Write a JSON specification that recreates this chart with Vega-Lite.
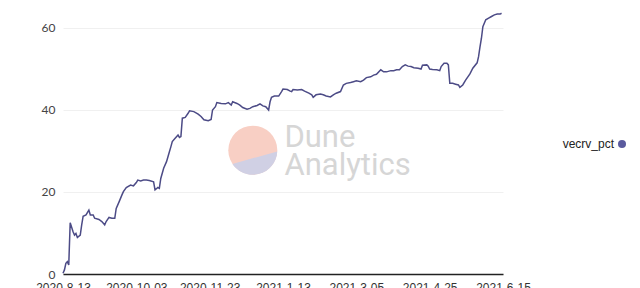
{
  "$schema": "https://vega.github.io/schema/vega-lite/v6.json",
  "width": 440,
  "height": 262,
  "autosize": "none",
  "padding": {"left": 63, "top": 12, "right": 137, "bottom": 14},
  "background": "#ffffff",
  "config": {
    "view": {"stroke": null},
    "font": "Liberation Sans"
  },
  "datasets": {
    "series": [
      {"date": "2020-08-13", "vecrv_pct": 0.2},
      {"date": "2020-08-14", "vecrv_pct": 1.0},
      {"date": "2020-08-15", "vecrv_pct": 2.6},
      {"date": "2020-08-16", "vecrv_pct": 3.0},
      {"date": "2020-08-17", "vecrv_pct": 2.2},
      {"date": "2020-08-18", "vecrv_pct": 12.5},
      {"date": "2020-08-20", "vecrv_pct": 10.3},
      {"date": "2020-08-21", "vecrv_pct": 9.5},
      {"date": "2020-08-22", "vecrv_pct": 9.9},
      {"date": "2020-08-23", "vecrv_pct": 8.9},
      {"date": "2020-08-25", "vecrv_pct": 9.5},
      {"date": "2020-08-26", "vecrv_pct": 12.0},
      {"date": "2020-08-27", "vecrv_pct": 14.1},
      {"date": "2020-08-29", "vecrv_pct": 14.4},
      {"date": "2020-08-31", "vecrv_pct": 15.6},
      {"date": "2020-09-01", "vecrv_pct": 14.4},
      {"date": "2020-09-03", "vecrv_pct": 14.4},
      {"date": "2020-09-04", "vecrv_pct": 13.6},
      {"date": "2020-09-07", "vecrv_pct": 13.3},
      {"date": "2020-09-09", "vecrv_pct": 12.8},
      {"date": "2020-09-11", "vecrv_pct": 12.0},
      {"date": "2020-09-12", "vecrv_pct": 12.8},
      {"date": "2020-09-14", "vecrv_pct": 13.8},
      {"date": "2020-09-16", "vecrv_pct": 13.6},
      {"date": "2020-09-18", "vecrv_pct": 13.6},
      {"date": "2020-09-19", "vecrv_pct": 16.0},
      {"date": "2020-09-21", "vecrv_pct": 17.6},
      {"date": "2020-09-23", "vecrv_pct": 19.3},
      {"date": "2020-09-24", "vecrv_pct": 20.1},
      {"date": "2020-09-26", "vecrv_pct": 21.1},
      {"date": "2020-09-29", "vecrv_pct": 21.7},
      {"date": "2020-10-01", "vecrv_pct": 21.5},
      {"date": "2020-10-03", "vecrv_pct": 22.3},
      {"date": "2020-10-04", "vecrv_pct": 22.9},
      {"date": "2020-10-06", "vecrv_pct": 22.7},
      {"date": "2020-10-08", "vecrv_pct": 22.9},
      {"date": "2020-10-10", "vecrv_pct": 22.9},
      {"date": "2020-10-12", "vecrv_pct": 22.8},
      {"date": "2020-10-15", "vecrv_pct": 22.5},
      {"date": "2020-10-16", "vecrv_pct": 20.5},
      {"date": "2020-10-18", "vecrv_pct": 21.1},
      {"date": "2020-10-19", "vecrv_pct": 20.9},
      {"date": "2020-10-20", "vecrv_pct": 23.3},
      {"date": "2020-10-22", "vecrv_pct": 25.8},
      {"date": "2020-10-24", "vecrv_pct": 27.4},
      {"date": "2020-10-26", "vecrv_pct": 29.8},
      {"date": "2020-10-27", "vecrv_pct": 31.0},
      {"date": "2020-10-28", "vecrv_pct": 32.3},
      {"date": "2020-10-30", "vecrv_pct": 33.1},
      {"date": "2020-11-01", "vecrv_pct": 33.9},
      {"date": "2020-11-02", "vecrv_pct": 33.3},
      {"date": "2020-11-03", "vecrv_pct": 33.5},
      {"date": "2020-11-04", "vecrv_pct": 38.0},
      {"date": "2020-11-06", "vecrv_pct": 38.2},
      {"date": "2020-11-08", "vecrv_pct": 39.2},
      {"date": "2020-11-09", "vecrv_pct": 39.8},
      {"date": "2020-11-12", "vecrv_pct": 39.6},
      {"date": "2020-11-15", "vecrv_pct": 39.0},
      {"date": "2020-11-17", "vecrv_pct": 38.4},
      {"date": "2020-11-19", "vecrv_pct": 37.6},
      {"date": "2020-11-22", "vecrv_pct": 37.4},
      {"date": "2020-11-24", "vecrv_pct": 37.7},
      {"date": "2020-11-25", "vecrv_pct": 40.0},
      {"date": "2020-11-27", "vecrv_pct": 40.8},
      {"date": "2020-11-28", "vecrv_pct": 41.8},
      {"date": "2020-12-01", "vecrv_pct": 41.6},
      {"date": "2020-12-04", "vecrv_pct": 41.5},
      {"date": "2020-12-06", "vecrv_pct": 41.8},
      {"date": "2020-12-08", "vecrv_pct": 41.2},
      {"date": "2020-12-09", "vecrv_pct": 42.0},
      {"date": "2020-12-12", "vecrv_pct": 41.6},
      {"date": "2020-12-14", "vecrv_pct": 41.2},
      {"date": "2020-12-16", "vecrv_pct": 40.6},
      {"date": "2020-12-19", "vecrv_pct": 40.2},
      {"date": "2020-12-21", "vecrv_pct": 40.4},
      {"date": "2020-12-23", "vecrv_pct": 40.8},
      {"date": "2020-12-26", "vecrv_pct": 41.1},
      {"date": "2020-12-28", "vecrv_pct": 41.5},
      {"date": "2020-12-30", "vecrv_pct": 41.0},
      {"date": "2021-01-01", "vecrv_pct": 40.8},
      {"date": "2021-01-03", "vecrv_pct": 40.0},
      {"date": "2021-01-04", "vecrv_pct": 42.0},
      {"date": "2021-01-05", "vecrv_pct": 43.1},
      {"date": "2021-01-07", "vecrv_pct": 43.4},
      {"date": "2021-01-10", "vecrv_pct": 43.4},
      {"date": "2021-01-12", "vecrv_pct": 44.5},
      {"date": "2021-01-13", "vecrv_pct": 45.1},
      {"date": "2021-01-16", "vecrv_pct": 45.0},
      {"date": "2021-01-18", "vecrv_pct": 44.6},
      {"date": "2021-01-19", "vecrv_pct": 44.5},
      {"date": "2021-01-20", "vecrv_pct": 45.0},
      {"date": "2021-01-23", "vecrv_pct": 44.9},
      {"date": "2021-01-26", "vecrv_pct": 45.0},
      {"date": "2021-01-28", "vecrv_pct": 44.6},
      {"date": "2021-01-31", "vecrv_pct": 44.1},
      {"date": "2021-02-02", "vecrv_pct": 43.7},
      {"date": "2021-02-03", "vecrv_pct": 43.1},
      {"date": "2021-02-05", "vecrv_pct": 43.7},
      {"date": "2021-02-08", "vecrv_pct": 43.9},
      {"date": "2021-02-10", "vecrv_pct": 43.7},
      {"date": "2021-02-12", "vecrv_pct": 43.4},
      {"date": "2021-02-15", "vecrv_pct": 43.2},
      {"date": "2021-02-17", "vecrv_pct": 43.7},
      {"date": "2021-02-19", "vecrv_pct": 44.1},
      {"date": "2021-02-22", "vecrv_pct": 44.5},
      {"date": "2021-02-24", "vecrv_pct": 46.1},
      {"date": "2021-02-26", "vecrv_pct": 46.5},
      {"date": "2021-03-01", "vecrv_pct": 46.7},
      {"date": "2021-03-03", "vecrv_pct": 46.9},
      {"date": "2021-03-05", "vecrv_pct": 47.1},
      {"date": "2021-03-08", "vecrv_pct": 46.9},
      {"date": "2021-03-10", "vecrv_pct": 47.3},
      {"date": "2021-03-12", "vecrv_pct": 47.9},
      {"date": "2021-03-15", "vecrv_pct": 48.1},
      {"date": "2021-03-17", "vecrv_pct": 48.5},
      {"date": "2021-03-19", "vecrv_pct": 48.7},
      {"date": "2021-03-22", "vecrv_pct": 49.8},
      {"date": "2021-03-24", "vecrv_pct": 49.3},
      {"date": "2021-03-26", "vecrv_pct": 49.3},
      {"date": "2021-03-29", "vecrv_pct": 49.6},
      {"date": "2021-03-31", "vecrv_pct": 49.6},
      {"date": "2021-04-02", "vecrv_pct": 49.8},
      {"date": "2021-04-04", "vecrv_pct": 49.8},
      {"date": "2021-04-06", "vecrv_pct": 50.6},
      {"date": "2021-04-08", "vecrv_pct": 51.0},
      {"date": "2021-04-10", "vecrv_pct": 50.7},
      {"date": "2021-04-12", "vecrv_pct": 50.6},
      {"date": "2021-04-14", "vecrv_pct": 50.3},
      {"date": "2021-04-17", "vecrv_pct": 50.2},
      {"date": "2021-04-19", "vecrv_pct": 50.0},
      {"date": "2021-04-20", "vecrv_pct": 50.9},
      {"date": "2021-04-23", "vecrv_pct": 51.0},
      {"date": "2021-04-24", "vecrv_pct": 50.7},
      {"date": "2021-04-25", "vecrv_pct": 50.0},
      {"date": "2021-04-27", "vecrv_pct": 49.9},
      {"date": "2021-04-30", "vecrv_pct": 49.8},
      {"date": "2021-05-02", "vecrv_pct": 49.6},
      {"date": "2021-05-03", "vecrv_pct": 50.6},
      {"date": "2021-05-05", "vecrv_pct": 51.4},
      {"date": "2021-05-07", "vecrv_pct": 51.4},
      {"date": "2021-05-08", "vecrv_pct": 51.0},
      {"date": "2021-05-09", "vecrv_pct": 46.5},
      {"date": "2021-05-11", "vecrv_pct": 46.5},
      {"date": "2021-05-13", "vecrv_pct": 46.3},
      {"date": "2021-05-15", "vecrv_pct": 46.1},
      {"date": "2021-05-16", "vecrv_pct": 45.5},
      {"date": "2021-05-18", "vecrv_pct": 46.1},
      {"date": "2021-05-20", "vecrv_pct": 47.3},
      {"date": "2021-05-23", "vecrv_pct": 48.8},
      {"date": "2021-05-25", "vecrv_pct": 50.2},
      {"date": "2021-05-28", "vecrv_pct": 51.5},
      {"date": "2021-05-29", "vecrv_pct": 53.0},
      {"date": "2021-05-30", "vecrv_pct": 55.4},
      {"date": "2021-05-31", "vecrv_pct": 57.5},
      {"date": "2021-06-01", "vecrv_pct": 60.3},
      {"date": "2021-06-03", "vecrv_pct": 62.0},
      {"date": "2021-06-05", "vecrv_pct": 62.4},
      {"date": "2021-06-07", "vecrv_pct": 62.8},
      {"date": "2021-06-09", "vecrv_pct": 63.2},
      {"date": "2021-06-11", "vecrv_pct": 63.4},
      {"date": "2021-06-13", "vecrv_pct": 63.4},
      {"date": "2021-06-14", "vecrv_pct": 63.6}
    ],
    "logo": [
      {"date": "2020-12-23", "level": 30.2}
    ],
    "wordmark": [
      {"date": "2021-01-14", "level": 31.0, "word": "Dune\nAnalytics"}
    ]
  },
  "encoding": {
    "x": {
      "field": "date",
      "type": "temporal",
      "scale": {
        "type": "utc",
        "domain": [
          {"year": 2020, "month": 8, "date": 13, "utc": true},
          {"year": 2021, "month": 6, "date": 15, "utc": true}
        ]
      },
      "axis": {
        "title": null,
        "values": [
          {"year": 2020, "month": 8, "date": 13, "utc": true},
          {"year": 2020, "month": 10, "date": 3, "utc": true},
          {"year": 2020, "month": 11, "date": 23, "utc": true},
          {"year": 2021, "month": 1, "date": 13, "utc": true},
          {"year": 2021, "month": 3, "date": 5, "utc": true},
          {"year": 2021, "month": 4, "date": 25, "utc": true},
          {"year": 2021, "month": 6, "date": 15, "utc": true}
        ],
        "format": "%Y-%-m-%d",
        "grid": false,
        "ticks": false,
        "domain": true,
        "domainColor": "#222222",
        "domainWidth": 1.5,
        "labelFlush": false,
        "labelPadding": 8,
        "labelFontSize": 12,
        "labelColor": "#333333",
        "labelFont": "Liberation Sans"
      }
    },
    "y": {
      "type": "quantitative",
      "scale": {"domain": [0, 63.9], "nice": false, "zero": true},
      "axis": {
        "title": null,
        "values": [0, 20, 40, 60],
        "grid": true,
        "gridColor": "#f0f0f0",
        "gridWidth": 1,
        "ticks": false,
        "domain": false,
        "labelPadding": 8,
        "labelFontSize": 12,
        "labelColor": "#444444",
        "labelFont": "Lato"
      }
    }
  },
  "layer": [
    {
      "data": {"name": "logo"},
      "mark": {"type": "point", "shape": "circle", "filled": true, "size": 2401, "color": "#f8cfc4", "opacity": 1, "strokeWidth": 0},
      "encoding": {"y": {"field": "level"}}
    },
    {
      "data": {"name": "logo"},
      "mark": {"type": "point", "shape": "M -0.83 0.56 L 0.999 0.05 A 1 1 0 0 1 -0.83 0.56 Z", "filled": true, "size": 2401, "color": "#d0d0e4", "opacity": 1, "strokeWidth": 0},
      "encoding": {"y": {"field": "level"}}
    },
    {
      "data": {"name": "wordmark"},
      "mark": {"type": "text", "align": "left", "baseline": "alphabetic", "font": "Roboto", "fontSize": 31, "lineHeight": 28, "lineBreak": "\n", "color": "#d6d6d6"},
      "encoding": {"y": {"field": "level"}, "text": {"field": "word"}}
    },
    {
      "data": {"name": "series"},
      "mark": {"type": "line", "strokeWidth": 1.5, "interpolate": "linear"},
      "encoding": {
        "y": {"field": "vecrv_pct"},
        "color": {
          "datum": "vecrv_pct",
          "type": "nominal",
          "scale": {"range": ["#4c4b86"]},
          "legend": {
            "title": null,
            "orient": "none",
            "legendX": 553,
            "legendY": 126,
            "symbolType": "circle",
            "symbolSize": 64,
            "symbolFillColor": "#5a5a9e",
            "symbolStrokeWidth": 0,
            "labelAlign": "right",
            "labelOffset": -14,
            "labelFontSize": 12,
            "labelColor": "#222222",
            "labelFont": "Liberation Sans"
          }
        }
      }
    }
  ]
}
